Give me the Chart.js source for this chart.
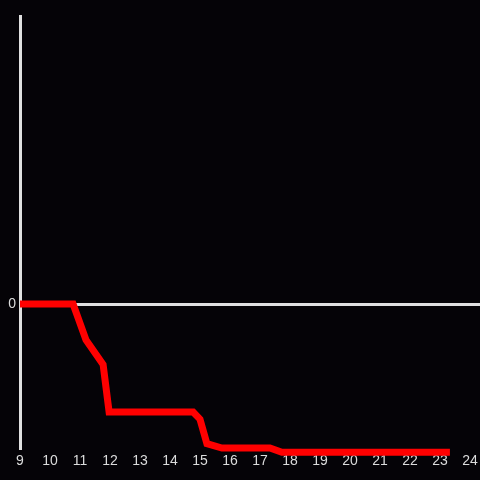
<!DOCTYPE html>
<html>
<head>
<meta charset="utf-8">
<script src="https://cdn.jsdelivr.net/npm/chart.js@4/dist/chart.umd.min.js"></script>
<style>
  html, body { margin: 0; padding: 0; background: #050307; }
  #wrap { width: 480px; height: 480px; }
</style>
</head>
<body>
<div id="wrap"><canvas id="c"></canvas></div>
<script>
// data
var xValues = [9, 10.77, 11.2, 11.77, 11.97, 14.77, 15.0, 15.23, 15.73, 17.33, 17.73, 23.33];
var yValues = [0, 0, -0.25, -0.42, -0.75, -0.75, -0.8, -0.97, -1.0, -1.0, -1.03, -1.03];
var xTicks = [9, 10, 11, 12, 13, 14, 15, 16, 17, 18, 19, 20, 21, 22, 23, 24];
var yTicks = [0];

var points = xValues.map(function(x, i) { return {x: x, y: yValues[i]}; });
var font = {family: 'Liberation Sans', size: 14};

new Chart(document.getElementById('c'), {
    type: 'line',
    data: {
        datasets: [{
            data: points,
            borderColor: '#ff0000',
            borderWidth: 7,
            borderCapStyle: 'butt',
            borderJoinStyle: 'miter',
            pointRadius: 0,
            tension: 0,
            fill: false,
            clip: false
        }]
    },
    options: {
        responsive: true,
        maintainAspectRatio: false,
        animation: false,
        layout: {padding: {top: 16, right: 0, left: 0, bottom: 0}},
        plugins: {legend: {display: false}, tooltip: {enabled: false}},
        scales: {
            x: {
                type: 'linear',
                min: 9,
                max: 24.333,
                afterBuildTicks: function(scale) {
                    scale.ticks = xTicks.map(function(v) { return {value: v}; });
                },
                afterFit: function(scale) {
                    scale.height = 32;
                    scale.paddingLeft = 0;
                    scale.paddingRight = 0;
                },
                border: {display: false},
                grid: {display: false, drawTicks: false},
                ticks: {color: '#dcdcdc', font: font, padding: 5, maxRotation: 0, autoSkip: false}
            },
            y: {
                type: 'linear',
                min: -1,
                max: 2,
                afterBuildTicks: function(scale) {
                    scale.ticks = yTicks.map(function(v) { return {value: v}; });
                },
                afterFit: function(scale) {
                    scale.width = 20;
                    scale.paddingTop = 0;
                    scale.paddingBottom = 0;
                },
                border: {display: true, color: '#e0e0e0', width: 3},
                grid: {color: '#e0e0e0', lineWidth: 3, drawTicks: false},
                ticks: {color: '#dcdcdc', font: font, padding: 4}
            }
        }
    }
});
</script>
</body>
</html>
